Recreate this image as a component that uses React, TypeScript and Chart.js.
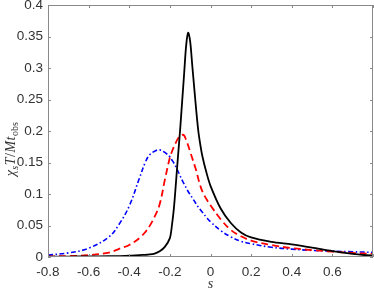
import React, { useEffect, useRef } from "react";
import { Chart, registerables } from "chart.js";

Chart.register(...registerables);

const sVals = [-0.8, -0.7, -0.6, -0.5, -0.45, -0.4, -0.35, -0.32, -0.3, -0.275, -0.25, -0.225, -0.2, -0.19, -0.18, -0.17, -0.16, -0.15, -0.14, -0.13, -0.12, -0.11, -0.1, -0.09, -0.08, -0.07, -0.06, -0.05, -0.04, -0.02, 0, 0.05, 0.1, 0.15, 0.2, 0.3, 0.4, 0.5, 0.6, 0.7, 0.8];

const blackVals = [0.0005, 0.0007, 0.0009, 0.0012, 0.0015, 0.002, 0.003, 0.0035, 0.004, 0.0055, 0.009, 0.016, 0.03, 0.05, 0.078, 0.118, 0.16, 0.2, 0.245, 0.29, 0.335, 0.356, 0.342, 0.305, 0.268, 0.232, 0.2, 0.178, 0.16, 0.134, 0.113, 0.077, 0.054, 0.039, 0.031, 0.024, 0.02, 0.015, 0.0095, 0.005, 0.0018];

const redVals = [0.001, 0.0015, 0.003, 0.007, 0.013, 0.019, 0.03, 0.04, 0.049, 0.064, 0.084, 0.122, 0.158, 0.167, 0.175, 0.182, 0.188, 0.192, 0.194, 0.193, 0.186, 0.177, 0.167, 0.157, 0.147, 0.137, 0.124, 0.113, 0.104, 0.092, 0.082, 0.06, 0.043, 0.033, 0.026, 0.019, 0.014, 0.011, 0.0085, 0.0065, 0.0048];

const blueVals = [0.003, 0.0065, 0.014, 0.032, 0.052, 0.081, 0.125, 0.151, 0.162, 0.168, 0.17, 0.166, 0.159, 0.154, 0.149, 0.143, 0.136, 0.129, 0.122, 0.116, 0.11, 0.104, 0.099, 0.094, 0.089, 0.084, 0.079, 0.075, 0.071, 0.063, 0.056, 0.042, 0.032, 0.025, 0.021, 0.0155, 0.0125, 0.0105, 0.0093, 0.0083, 0.0074];

const xTicks = [-0.8, -0.6, -0.4, -0.2, 0, 0.2, 0.4, 0.6, 0.8];
const yTicks = [0, 0.05, 0.1, 0.15, 0.2, 0.25, 0.3, 0.35, 0.4];

const FONT = "'Liberation Sans', Arial, sans-serif";
const TEXT = "#333333";
const FRAME = "#8a8a8a";

const framePlugin = {
  id: "frame",
  afterDraw(chart: any) {
    const { ctx, chartArea } = chart;
    const { left, right, top, bottom } = chartArea;
    const xs = chart.scales.x;
    const ys = chart.scales.y;
    ctx.save();
    ctx.strokeStyle = FRAME;
    ctx.lineWidth = 1;
    ctx.strokeRect(left + 0.5, top + 0.5, right - left - 1, bottom - top - 1);
    const tl = 3;
    ctx.beginPath();
    xTicks.forEach((v) => {
      const px = Math.round(xs.getPixelForValue(v)) + 0.5;
      ctx.moveTo(px, bottom);
      ctx.lineTo(px, bottom - tl);
      ctx.moveTo(px, top);
      ctx.lineTo(px, top + tl);
    });
    yTicks.forEach((v) => {
      const py = Math.round(ys.getPixelForValue(v)) + 0.5;
      ctx.moveTo(left, py);
      ctx.lineTo(left + tl, py);
      ctx.moveTo(right, py);
      ctx.lineTo(right - tl, py);
    });
    ctx.stroke();

    // x axis title
    ctx.fillStyle = TEXT;
    ctx.font = "italic 14px 'Liberation Serif', serif";
    ctx.textAlign = "center";
    ctx.textBaseline = "alphabetic";
    ctx.fillText("s", (left + right) / 2, 288);

    // y axis title with subscripts (rotated)
    const pieces: [string, string, number][] = [
      ["χ", "italic 14px 'Liberation Serif', serif", 0],
      ["s", "italic 10px 'Liberation Serif', serif", 3],
      ["T", "italic 14px 'Liberation Serif', serif", 0],
      ["/", "14px 'Liberation Serif', serif", 0],
      ["M", "italic 14px 'Liberation Serif', serif", 0],
      ["t", "italic 14px 'Liberation Serif', serif", 0],
      ["obs", "10px 'Liberation Serif', serif", 3],
    ];
    let total = 0;
    const widths = pieces.map(([t, f]) => {
      ctx.font = f;
      const w = ctx.measureText(t).width + 0.5;
      total += w;
      return w;
    });
    ctx.translate(15, 149);
    ctx.rotate(-Math.PI / 2);
    ctx.textAlign = "left";
    let x = -total / 2;
    pieces.forEach(([t, f, dy], i) => {
      ctx.font = f;
      ctx.fillText(t, x, dy);
      x += widths[i];
    });
    ctx.restore();
  },
};

export default function App() {
  const ref = useRef<HTMLCanvasElement | null>(null);
  useEffect(() => {
    if (!ref.current) return;
    const mk = (vals: number[]) => sVals.map((s, i) => ({ x: s, y: vals[i] }));
    const chart = new Chart(ref.current, {
      type: "scatter",
      data: {
        datasets: [
          {
            data: mk(blueVals),
            showLine: true,
            borderColor: "#0000ff",
            borderWidth: 1.6,
            borderDash: [5, 2.5, 1.5, 2.5],
            pointRadius: 0,
            tension: 0.4,
            order: 3,
          },
          {
            data: mk(redVals),
            showLine: true,
            borderColor: "#ff0000",
            borderWidth: 1.8,
            borderDash: [7, 4],
            pointRadius: 0,
            tension: 0.4,
            order: 2,
          },
          {
            data: mk(blackVals),
            showLine: true,
            borderColor: "#000000",
            borderWidth: 1.8,
            pointRadius: 0,
            tension: 0.3,
            order: 1,
          },
        ],
      },
      options: {
        responsive: false,
        animation: false,
        layout: { padding: { left: 0, right: 1, top: 5, bottom: 0 } },
        plugins: { legend: { display: false }, tooltip: { enabled: false } },
        scales: {
          x: {
            type: "linear",
            min: -0.8,
            max: 0.8,
            afterBuildTicks: (s: any) => {
              s.ticks = xTicks.map((v) => ({ value: v }));
            },
            ticks: {
              font: { family: FONT, size: 13.5 },
              color: TEXT,
              padding: 7,
              maxRotation: 0,
              autoSkip: false,
              callback: (v: any) => (Math.abs(v - 0.8) < 1e-9 ? "" : String(Number(Number(v).toFixed(2)))),
            },
            grid: { display: false, drawTicks: false },
            border: { display: false },
            afterFit: (s: any) => {
              s.height = 33;
              s.paddingLeft = 0;
              s.paddingRight = 0;
            },
          },
          y: {
            type: "linear",
            min: 0,
            max: 0.4,
            afterBuildTicks: (s: any) => {
              s.ticks = yTicks.map((v) => ({ value: v }));
            },
            ticks: {
              font: { family: FONT, size: 13.5 },
              color: TEXT,
              padding: 5,
              autoSkip: false,
              callback: (v: any) => String(Number(Number(v).toFixed(2))),
            },
            grid: { display: false, drawTicks: false },
            border: { display: false },
            afterFit: (s: any) => {
              s.width = 48;
              s.paddingTop = 0;
              s.paddingBottom = 0;
            },
          },
        },
      },
      plugins: [framePlugin],
    } as any);
    return () => chart.destroy();
  }, []);
  return (
    <div style={{ position: "fixed", left: 0, top: 0, width: 374, height: 290, background: "#fff" }}>
      <canvas ref={ref} width={374} height={290} style={{ display: "block" }} />
    </div>
  );
}
